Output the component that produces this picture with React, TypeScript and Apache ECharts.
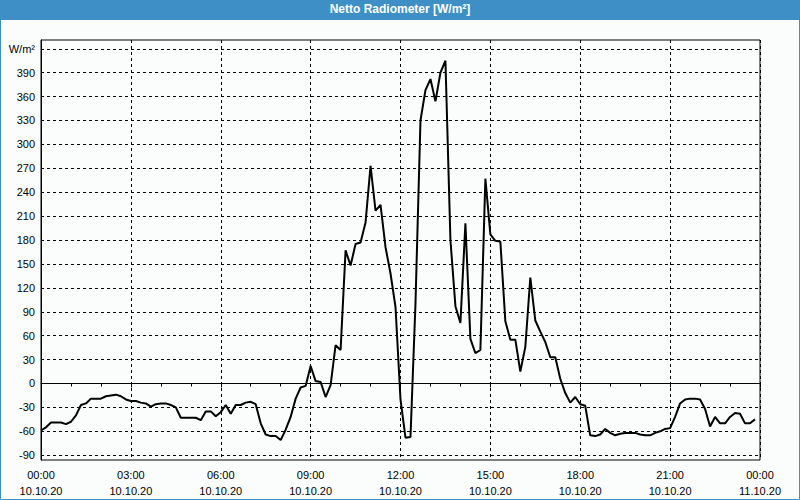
import React, { useEffect, useRef } from "react";
import * as echarts from "echarts";

// Netto radiometer readings, 10-minute steps starting 10.10.20 00:00 (W/m²)
const stepMinutes = 10;
const radiation = [
  -59, -55, -49, -49, -49, -51, -48, -40, -27, -25, -19, -19,
  -19, -16, -15, -14, -16, -20, -22, -22, -24, -25, -29, -26,
  -25, -25, -27, -30, -43, -43, -43, -43, -46, -35, -35, -41,
  -36, -27, -38, -27, -27, -24, -23, -26, -50, -64, -66, -66,
  -71, -58, -42, -19, -5, -3, 22, 3, 2, -17, -2, 48,
  42, 167, 148, 175, 177, 202, 273, 217, 224, 171, 138, 96,
  -20, -68, -67, 100, 330, 368, 382, 354, 390, 405, 180, 97,
  76, 201, 56, 38, 42, 257, 187, 179, 178, 78, 55, 55,
  15, 46, 133, 79, 65, 52, 33, 33, 6, -12, -24, -17,
  -26, -28, -65, -66, -64, -57, -62, -65, -63, -62, -62, -62,
  -64, -65, -65, -62, -60, -57, -56, -42, -25, -20, -19, -19,
  -20, -32, -54, -42, -50, -50, -42, -37, -38, -50, -50, -45,
];

const xTickHours = [0, 3, 6, 9, 12, 15, 18, 21, 24];
const xTimeLabels = ["00:00", "03:00", "06:00", "09:00", "12:00", "15:00", "18:00", "21:00", "00:00"];
const xDateLabels = ["10.10.20", "10.10.20", "10.10.20", "10.10.20", "10.10.20", "10.10.20", "10.10.20", "10.10.20", "11.10.20"];
const yTickValues = [-90, -60, -30, 0, 30, 60, 90, 120, 150, 180, 210, 240, 270, 300, 330, 360, 390, 420];
const yUnitLabel = "W/m²";
const titleText = "Netto Radiometer [W/m²]";

export default function App() {
  const ref = useRef<HTMLDivElement>(null);
  useEffect(() => {
    if (!ref.current) return;
    const chart = echarts.init(ref.current, undefined, { renderer: "svg" });
    const data = radiation.map((v, i) => [(i * stepMinutes) / 60, v]);
    const font = "Liberation Sans";
    chart.setOption({
      animation: false,
      backgroundColor: "#fbfdfd",
      title: {
        text: titleText,
        left: "center",
        top: 3,
        padding: 0,
        textStyle: { color: "#ffffff", fontSize: 12, fontWeight: "bold", fontFamily: font },
      },
      graphic: [
        {
          type: "rect",
          shape: { x: 0, y: 0, width: 800, height: 20 },
          style: { fill: "#3d8fc6" },
          z: -1,
        },
        {
          type: "rect",
          shape: { x: 0.5, y: 0.5, width: 799, height: 499 },
          style: { fill: "none", stroke: "#3d8fc6", lineWidth: 1 },
          z: -1,
        },
      ],
      grid: {
        left: 41,
        right: 40,
        top: 40,
        bottom: 40,
        show: true,
        borderColor: "#000",
        borderWidth: 1,
        backgroundColor: "transparent",
      },
      xAxis: {
        type: "value",
        min: 0,
        max: 24,
        interval: 3,
        axisLine: { show: true, lineStyle: { color: "#000", width: 1 } },
        axisTick: { show: true, length: 4, lineStyle: { color: "#000" } },
        minorTick: { show: true, splitNumber: 3, length: 3, lineStyle: { color: "#000" } },
        splitLine: { show: true, lineStyle: { color: "#000", type: [3, 3], width: 1 } },
        axisLabel: {
          margin: 7,
          fontSize: 11,
          lineHeight: 16,
          color: "#000",
          fontFamily: font,
          formatter: (v: number) => {
            const i = xTickHours.indexOf(v);
            return i >= 0 ? `${xTimeLabels[i]}\n${xDateLabels[i]}` : "";
          },
        },
      },
      yAxis: {
        type: "value",
        min: -96,
        max: 431,
        axisLine: { show: true, lineStyle: { color: "#000", width: 1 } },
        axisTick: { show: false, customValues: yTickValues },
        splitLine: { show: true, lineStyle: { color: "#000", type: [3, 3], width: 1 } },
        axisLabel: {
          customValues: yTickValues,
          margin: 6,
          fontSize: 11,
          color: "#000",
          fontFamily: font,
          formatter: (v: number) => (v === 420 ? yUnitLabel : String(v)),
        },
      },
      series: [
        {
          type: "line",
          data,
          symbol: "none",
          lineStyle: { color: "#000", width: 2 },
          clip: true,
        },
      ],
    });
    return () => chart.dispose();
  }, []);
  return (
    <div
      ref={ref}
      style={{ position: "absolute", left: 0, top: 0, width: 800, height: 500 }}
    />
  );
}
